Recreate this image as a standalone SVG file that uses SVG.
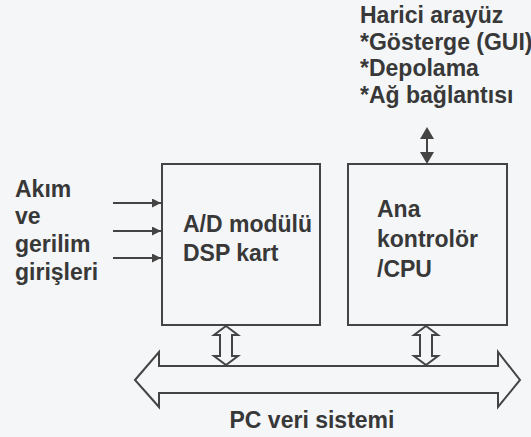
<svg xmlns="http://www.w3.org/2000/svg" width="531" height="437" viewBox="0 0 531 437">
<style>
text{font-family:"Liberation Sans",Arial,sans-serif;font-weight:bold;font-size:23px;fill:#383838}
.box{fill:none;stroke:#444;stroke-width:2}
.ln{stroke:#444;stroke-width:2;fill:none}
.hd{fill:#444}
.out{fill:#f4f6f8;stroke:#444;stroke-width:2;stroke-linejoin:miter}
</style>
<defs>
<marker id="ah" viewBox="0 0 10 10" refX="10" refY="5" markerWidth="12" markerHeight="9" markerUnits="userSpaceOnUse" orient="auto"><path d="M0,0 L10,5 L0,10 z" fill="#444"/></marker>
</defs>
<rect width="531" height="437" fill="#f4f6f8"/>
<g id="harici">
<text x="360" y="23">Harici arayüz</text>
<text x="360" y="50">*Gösterge (GUI)</text>
<text x="360" y="76">*Depolama</text>
<text x="360" y="103">*Ağ bağlantısı</text>
</g>
<g id="girisler">
<text x="15" y="197">Akım</text>
<text x="15" y="224">ve</text>
<text x="15" y="252">gerilim</text>
<text x="15" y="280">girişleri</text>
</g>
<g id="adc">
<rect class="box" x="162" y="164" width="158" height="161"/>
<text x="183" y="232">A/D modülü</text>
<text x="183" y="261">DSP kart</text>
</g>
<g id="cpu">
<rect class="box" x="348" y="164" width="159" height="161"/>
<text x="377" y="217">Ana</text>
<text x="377" y="247">kontrolör</text>
<text x="377" y="277">/CPU</text>
</g>
<g id="pcveri">
<text x="312" y="428" text-anchor="middle">PC veri sistemi</text>
</g>
<g id="connectors">
<line class="ln" x1="113" y1="203" x2="161" y2="203" marker-end="url(#ah)"/>
<line class="ln" x1="113" y1="231" x2="161" y2="231" marker-end="url(#ah)"/>
<line class="ln" x1="113" y1="258" x2="161" y2="258" marker-end="url(#ah)"/>
<line class="ln" x1="427" y1="137" x2="427" y2="153"/>
<path class="hd" d="M427,127 L420,139 L434,139 z"/>
<path class="hd" d="M427,164 L420,152 L434,152 z"/>
<path class="out" d="M135,380 L159,352 L159,366 L498,366 L498,352 L520,380 L498,407 L498,393 L159,393 L159,407 z"/>
<path class="out" d="M226,326 L238,335 L232,335 L232,356 L238,356 L226,365 L214,356 L220,356 L220,335 L214,335 z"/>
<path class="out" d="M426,326 L438,335 L432,335 L432,356 L438,356 L426,365 L414,356 L420,356 L420,335 L414,335 z"/>
</g>
</svg>
